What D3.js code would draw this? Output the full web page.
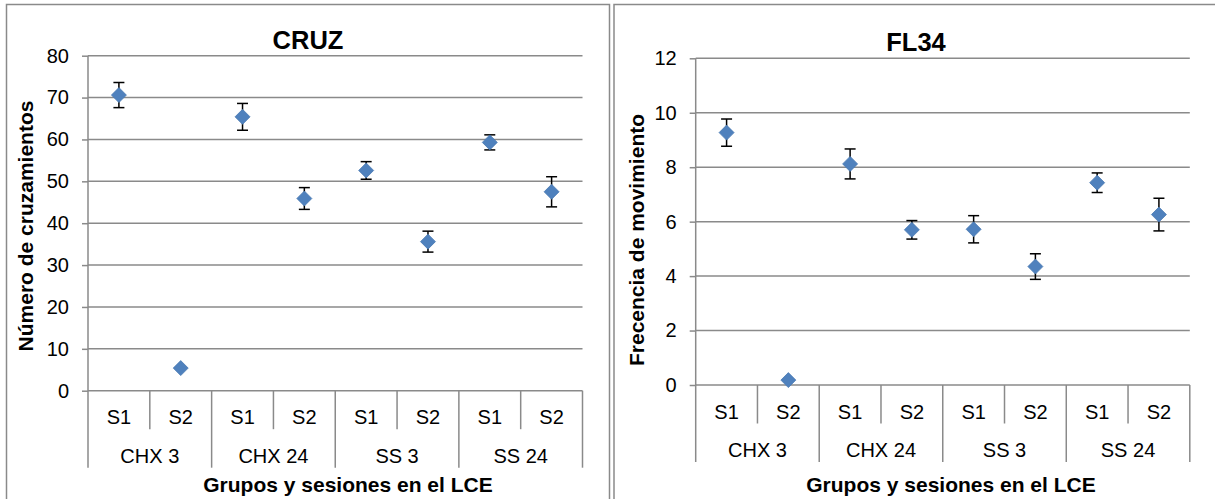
<!DOCTYPE html>
<html>
<head>
<meta charset="utf-8">
<script src="https://cdn.jsdelivr.net/npm/d3@7"></script>
<style>
  body { margin: 0; background: #fff; }
  svg { display: block; font-family: "Liberation Sans", Arial, sans-serif; }
</style>
</head>
<body>
<svg id="chart" width="1215" height="499"></svg>
<script>
// data
const groups = ["CHX 3", "CHX 24", "SS 3", "SS 24"];
const sessions = ["S1", "S2"];
const cruzMean = [70.6, 5.4, 65.4, 45.9, 52.6, 35.6, 59.3, 47.5];
const cruzErr = [3.0, 0, 3.2, 2.6, 2.1, 2.5, 1.8, 3.6];
const fl34Mean = [9.27, 0.18, 8.12, 5.7, 5.72, 4.35, 7.43, 6.26];
const fl34Err = [0.5, 0, 0.55, 0.34, 0.5, 0.47, 0.36, 0.6];

const gridColor = "#8a8a8a";
const markerColor = "#4f81bd";
const labelSize = 20;

const svg = d3.select("#chart");

// one chart panel
function drawPanel(opt) {
  const g = svg.append("g");

  // outer frame (bottom edge runs off the picture)
  g.append("rect")
    .attr("x", opt.frame[0]).attr("y", opt.frame[1])
    .attr("width", opt.frame[2]).attr("height", 600)
    .attr("fill", "none").attr("stroke", gridColor).attr("stroke-width", 1.5);

  const cats = [];
  groups.forEach(gr => sessions.forEach(s => cats.push(gr + "|" + s)));
  const points = cats.map((c, i) => ({key: c, mean: opt.mean[i], err: opt.err[i]}));

  const x = d3.scaleBand().domain(cats).range([opt.x0, opt.x1]).padding(0);
  const y = d3.scaleLinear().domain([0, opt.max]).range([opt.yBot, opt.yTop]);
  const ticks = d3.range(0, opt.max + opt.step / 2, opt.step);

  // gridlines
  g.append("g").selectAll("line")
    .data(ticks).enter().append("line")
      .attr("x1", opt.x0).attr("x2", opt.x1)
      .attr("y1", d => y(d)).attr("y2", d => y(d))
      .attr("stroke", gridColor).attr("stroke-width", 1.5);

  // y axis ticks + labels
  const yAxis = d3.axisLeft(y).tickValues(ticks).tickSize(6).tickPadding(13)
    .tickFormat(d3.format("d"));
  const ya = g.append("g")
    .attr("transform", `translate(${opt.x0},0)`)
    .call(yAxis);
  ya.select(".domain").remove();
  ya.selectAll(".tick line").attr("stroke", gridColor).attr("stroke-width", 1.5);
  ya.selectAll(".tick text")
    .attr("font-size", labelSize).attr("fill", "#000")
    .attr("font-family", "Liberation Sans, Arial, sans-serif");

  // y axis line, extended down through the category rows
  g.append("line")
    .attr("x1", opt.x0).attr("x2", opt.x0)
    .attr("y1", opt.yTop).attr("y2", opt.yBot + 77)
    .attr("stroke", gridColor).attr("stroke-width", 1.5);

  // category separators
  const edges = cats.map((c, i) => ({x: x(c), long: i % 2 === 0})).slice(1);
  edges.push({x: opt.x1, long: true});
  g.append("g").selectAll("line")
    .data(edges).enter().append("line")
      .attr("x1", d => d.x).attr("x2", d => d.x)
      .attr("y1", opt.yBot)
      .attr("y2", d => opt.yBot + (d.long ? 77 : 38.5))
      .attr("stroke", gridColor).attr("stroke-width", 1.5);

  // session labels
  g.append("g").selectAll("text")
    .data(cats).enter().append("text")
      .attr("x", d => x(d) + x.bandwidth() / 2)
      .attr("y", opt.yBot + 26.5)
      .attr("dy", "0.35em")
      .attr("text-anchor", "middle")
      .attr("font-size", labelSize)
      .text(d => d.split("|")[1]);

  // group labels
  g.append("g").selectAll("text")
    .data(groups).enter().append("text")
      .attr("x", d => x(d + "|S1") + x.bandwidth())
      .attr("y", opt.yBot + 65)
      .attr("dy", "0.35em")
      .attr("text-anchor", "middle")
      .attr("font-size", labelSize)
      .text(d => d);

  // error bars (drawn under the markers)
  const eb = g.append("g").selectAll("g")
    .data(points.filter(p => p.err > 0)).enter().append("g")
      .attr("stroke", "#000").attr("stroke-width", 1.5);
  const cx = d => x(d.key) + x.bandwidth() / 2;
  eb.append("line")
    .attr("x1", cx).attr("x2", cx)
    .attr("y1", d => y(d.mean + d.err)).attr("y2", d => y(d.mean - d.err));
  eb.append("line")
    .attr("x1", d => cx(d) - 5.5).attr("x2", d => cx(d) + 5.5)
    .attr("y1", d => y(d.mean + d.err)).attr("y2", d => y(d.mean + d.err));
  eb.append("line")
    .attr("x1", d => cx(d) - 5.5).attr("x2", d => cx(d) + 5.5)
    .attr("y1", d => y(d.mean - d.err)).attr("y2", d => y(d.mean - d.err));

  // diamond markers
  const r = 7.5;
  g.append("g").selectAll("path")
    .data(points).enter().append("path")
      .attr("d", d => {
        const px = cx(d), py = y(d.mean);
        return `M${px},${py - r}L${px + r},${py}L${px},${py + r}L${px - r},${py}Z`;
      })
      .attr("fill", markerColor)
      .attr("stroke", "#4a7ab3").attr("stroke-width", 0.8);

  // titles
  g.append("text")
    .attr("x", opt.title[0]).attr("y", opt.title[1])
    .attr("dy", "0.35em")
    .attr("text-anchor", "middle")
    .attr("font-size", 25.5).attr("font-weight", "bold")
    .text(opt.titleText);

  g.append("text")
    .attr("x", opt.xTitle[0]).attr("y", opt.xTitle[1])
    .attr("text-anchor", "middle")
    .attr("font-size", 21).attr("font-weight", "bold")
    .text("Grupos y sesiones en el LCE");

  g.append("text")
    .attr("transform", `translate(${opt.yTitle[0]},${opt.yTitle[1]}) rotate(-90)`)
    .attr("text-anchor", "middle")
    .attr("font-size", 21).attr("font-weight", "bold")
    .text(opt.yTitleText);
}

drawPanel({
  frame: [6.5, 4.5, 603],
  x0: 88, x1: 582.5, yTop: 55.7, yBot: 390.7,
  max: 80, step: 10,
  mean: cruzMean, err: cruzErr,
  titleText: "CRUZ", title: [308, 40.5],
  xTitle: [348, 491.5],
  yTitleText: "Número de cruzamientos", yTitle: [33, 226]
});

drawPanel({
  frame: [614, 4.5, 620],
  x0: 695.7, x1: 1189.8, yTop: 58.3, yBot: 385,
  max: 12, step: 2,
  mean: fl34Mean, err: fl34Err,
  titleText: "FL34", title: [916, 42.5],
  xTitle: [951, 491.5],
  yTitleText: "Frecencia de movimiento", yTitle: [644, 240]
});
</script>
</body>
</html>
